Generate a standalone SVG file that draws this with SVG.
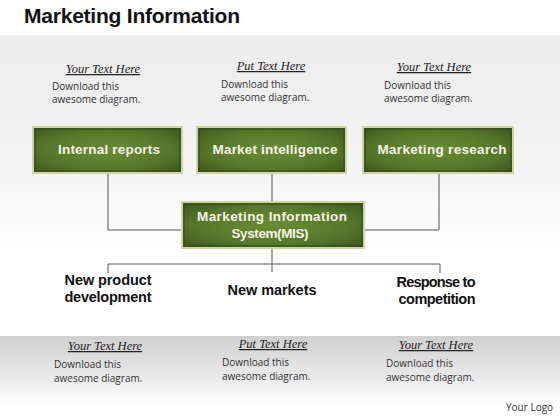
<svg xmlns="http://www.w3.org/2000/svg" width="560" height="420" viewBox="0 0 560 420">
<defs>
<linearGradient id="topband" x1="0" y1="0" x2="0" y2="1">
<stop offset="0" stop-color="#ececec"/>
<stop offset="0.6" stop-color="#f4f4f4"/>
<stop offset="1" stop-color="#ffffff"/>
</linearGradient>
<linearGradient id="botband" x1="0" y1="0" x2="0" y2="1">
<stop offset="0" stop-color="#d0d0d0"/>
<stop offset="0.55" stop-color="#e8e8e8"/>
<stop offset="1" stop-color="#ffffff"/>
</linearGradient>
<radialGradient id="green" cx="0.5" cy="0.5" r="0.7">
<stop offset="0" stop-color="#6a8c33"/>
<stop offset="0.6" stop-color="#56772a"/>
<stop offset="1" stop-color="#3a531a"/>
</radialGradient>
</defs>
<style>
.title{font-family:"Liberation Sans",Arial,sans-serif;font-weight:bold;font-size:21px;fill:#111}
.box{fill:url(#green);stroke:#cdd4a6;stroke-width:2}
.inner{fill:none;stroke:#34491a;stroke-width:1}
.bt{font-family:"Liberation Sans",Arial,sans-serif;font-weight:bold;font-size:13.5px;fill:#f4f4ea;text-anchor:middle}
.lbl{font-family:"Liberation Sans",Arial,sans-serif;font-weight:bold;font-size:14.5px;fill:#111;text-anchor:middle}
.hd{font-family:"Liberation Serif","Times New Roman",serif;font-style:italic;font-size:12.5px;fill:#222;text-decoration:underline;text-anchor:middle}
.tx{font-family:"Open Sans","Liberation Sans",sans-serif;font-size:10px;fill:#333}
.conn{fill:none;stroke:#555;stroke-width:1}
</style>
<rect x="0" y="0" width="560" height="420" fill="#ffffff"/>
<rect x="0" y="35" width="560" height="220" fill="url(#topband)"/>
<rect x="0" y="336" width="560" height="70" fill="url(#botband)"/>
<text class="title" x="24" y="23" textLength="216">Marketing Information</text>

<g id="connectors">
<path class="conn" d="M108 174 V230 H182"/>
<path class="conn" d="M272 174 V202"/>
<path class="conn" d="M439 174 V230 H364"/>
<path class="conn" d="M272 248 V272"/>
<path class="conn" d="M108 273 V264 H440 V273"/>
</g>

<g id="top-notes">
<text class="hd" x="103" y="73">Your Text Here</text>
<text class="tx" x="52" y="90">Download this</text>
<text class="tx" x="52" y="103">awesome diagram.</text>
<text class="hd" x="271" y="70">Put Text Here</text>
<text class="tx" x="221" y="88">Download this</text>
<text class="tx" x="221" y="101">awesome diagram.</text>
<text class="hd" x="434" y="71">Your Text Here</text>
<text class="tx" x="384" y="89">Download this</text>
<text class="tx" x="384" y="102">awesome diagram.</text>
</g>

<g id="internal-reports">
<rect class="box" x="33" y="127" width="149" height="46"/>
<rect class="inner" x="35" y="129" width="145" height="42"/>
<text class="bt" x="109" y="154" textLength="102">Internal reports</text>
</g>
<g id="market-intelligence">
<rect class="box" x="197" y="127" width="149" height="46"/>
<rect class="inner" x="199" y="129" width="145" height="42"/>
<text class="bt" x="275" y="154" textLength="125">Market intelligence</text>
</g>
<g id="marketing-research">
<rect class="box" x="363" y="127" width="150" height="46"/>
<rect class="inner" x="365" y="129" width="146" height="42"/>
<text class="bt" x="442" y="154" textLength="129">Marketing research</text>
</g>
<g id="mis">
<rect class="box" x="182" y="202" width="182" height="46"/>
<rect class="inner" x="184" y="204" width="178" height="42"/>
<text class="bt" x="272" y="221" textLength="150">Marketing Information</text>
<text class="bt" x="270" y="238" textLength="77">System(MIS)</text>
</g>

<g id="new-product">
<text class="lbl" x="108" y="285" textLength="87">New product</text>
<text class="lbl" x="108" y="302" textLength="87">development</text>
</g>
<g id="new-markets">
<text class="lbl" x="272" y="295" textLength="89">New markets</text>
</g>
<g id="response">
<text class="lbl" x="436" y="287" textLength="79">Response to</text>
<text class="lbl" x="437" y="304" textLength="77">competition</text>
</g>

<g id="bottom-notes">
<text class="hd" x="105" y="350">Your Text Here</text>
<text class="tx" x="54" y="368">Download this</text>
<text class="tx" x="54" y="382">awesome diagram.</text>
<text class="hd" x="273" y="348">Put Text Here</text>
<text class="tx" x="222" y="366">Download this</text>
<text class="tx" x="222" y="380">awesome diagram.</text>
<text class="hd" x="436" y="349">Your Text Here</text>
<text class="tx" x="386" y="367">Download this</text>
<text class="tx" x="386" y="381">awesome diagram.</text>
</g>
<text class="tx" x="506" y="411">Your Logo</text>
</svg>
